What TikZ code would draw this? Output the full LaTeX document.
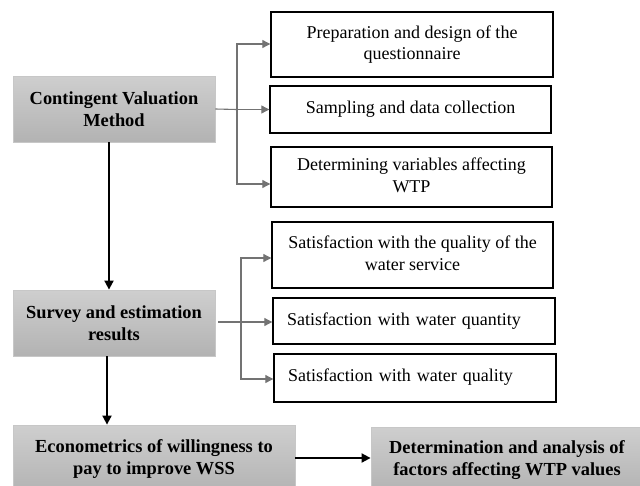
\documentclass[tikz,border=0pt]{standalone}
\usepackage{fontspec}
\setmainfont{Liberation Serif}
\usetikzlibrary{arrows.meta,calc}
\begin{document}
\begin{tikzpicture}[x=1pt,y=-1pt,
  txt/.style={font=\fontsize{18}{21.5}\selectfont},
  whitebox/.style={draw=black,line width=1.4pt,fill=white,txt,align=center,inner sep=0pt},
  graybox/.style={draw=black!22,line width=0.8pt,top color=black!19,bottom color=black!30,font=\fontsize{18.4}{21.5}\selectfont\bfseries,align=center,inner sep=0pt},
  branch/.style={draw=black!55,line width=1.1pt},
  btip/.style={-{Triangle[length=8pt,width=8pt]},black!55},
  mainarrow/.style={draw=black,line width=1.8pt,-{Triangle[length=9pt,width=9pt]}}
]
\useasboundingbox[fill=white] (0,0) rectangle (640,485);

% left column
\node[graybox,minimum width=202pt,minimum height=66pt] (cvm) at (114,109) {Contingent Valuation\\Method};
\node[graybox,minimum width=202pt,minimum height=66pt] (surv) at (114,323) {Survey and estimation\\results};
\node[graybox,minimum width=282pt,minimum height=68pt] (econ) at (154,459) {\raisebox{4pt}{\begin{tabular}{@{}c@{}}Econometrics of willingness to\\pay to improve WSS\end{tabular}}};
\node[graybox,minimum width=272pt,minimum height=66pt] (det) at (507,460) {\raisebox{5pt}{\begin{tabular}{@{}c@{}}Determination and analysis of\\factors affecting WTP values\end{tabular}}};

% right column
\node[whitebox,minimum width=282pt,minimum height=65pt] (prep) at (412,44.5) {\raisebox{3pt}{\begin{tabular}{@{}c@{}}Preparation and design of the\\questionnaire\end{tabular}}};
\node[whitebox,minimum width=281pt,minimum height=47pt] (samp) at (410.5,109.5) {\raisebox{4pt}{Sampling and data collection}};
\node[whitebox,minimum width=281pt,minimum height=60pt] (detv) at (411.5,177) {\raisebox{3pt}{\begin{tabular}{@{}c@{}}Determining variables affecting\\WTP\end{tabular}}};
\node[whitebox,minimum width=281pt,minimum height=66pt] (serv) at (412.5,255) {\raisebox{4pt}{\begin{tabular}{@{}c@{}}Satisfaction with the quality of the\\water service\end{tabular}}};
\node[whitebox,minimum width=282pt,minimum height=46pt,text width=254pt,inner xsep=14pt,align=left] (quan) at (414,321) {\raisebox{4pt}{Satisfaction with water quantity}};
\node[whitebox,minimum width=282pt,minimum height=48pt,text width=254pt,inner xsep=14pt,align=left] (qual) at (415,378) {\raisebox{6pt}{Satisfaction with water quality}};

% branches from CVM
\coordinate (j1) at (237,109.5);
\draw[branch] (cvm.east) -- (j1);
\draw[branch,btip] (j1) -- (samp.west);
\draw[branch,btip] (j1) |- ([yshift=0.5pt]prep.west);
\draw[branch,btip] (j1) |- ([yshift=-7pt]detv.west);

% branches from survey
\coordinate (j2) at (241,322);
\draw[branch] ([xshift=3pt]surv.east |- j2) -- (j2);
\draw[branch,btip] (j2) -- (quan.west |- j2);
\draw[branch,btip] (j2) |- ([yshift=-3pt]serv.west);
\draw[branch,btip] (j2) |- ([yshift=-1pt]qual.west);

% main flow
\draw[mainarrow] ([xshift=-5pt]cvm.south) -- ([xshift=-5pt]surv.north);
\draw[mainarrow] ([xshift=-7pt]surv.south) -- ([xshift=-7pt]surv.south |- econ.north);
\coordinate (h) at (0,458);
\draw[mainarrow] (econ.east |- h) -- (det.west |- h);
\end{tikzpicture}
\end{document}
